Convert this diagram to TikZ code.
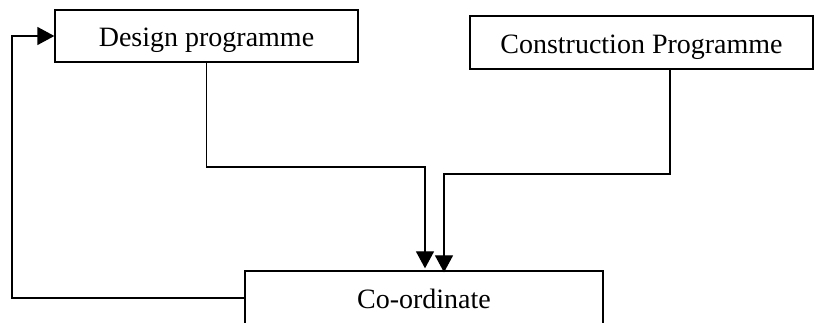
\documentclass[tikz,border=0pt]{standalone}
\usepackage{fontspec}
\setmainfont{Liberation Serif}
\usetikzlibrary{arrows.meta,calc}
\newcommand{\boxtext}[1]{\raisebox{-11pt}[0pt][0pt]{#1}}
\begin{document}
\begin{tikzpicture}[x=1pt,y=-1pt,
  box/.style={draw,line width=1.3pt,inner sep=0pt,font=\fontsize{28}{32}\selectfont},
  link/.style={line width=1.3pt},
  arr/.style={link,-{Triangle[length=17pt,width=18pt]}}]
  \useasboundingbox (0,0) rectangle (815,323);
  \clip (0,0) rectangle (815,323);
  \node[box,minimum width=303pt,minimum height=52pt] (design) at (206.5,36) {\boxtext{Design programme}};
  \node[box,minimum width=343pt,minimum height=53pt] (cons) at (641.5,42.5) {\boxtext{Construction Programme}};
  \node[box,minimum width=358pt,minimum height=54pt] (coord) at (424,298) {\boxtext{Co-ordinate}};
  \coordinate (tipA) at ([xshift=1pt,yshift=2pt]coord.north);
  \coordinate (tipB) at ([xshift=20pt,yshift=-2pt]coord.north);
  \coordinate (back) at (12,298);
  % programme flows into co-ordination
  \draw[arr] (design.south) -- (206.5,167) -| (tipA);
  \draw[arr] ([xshift=28.5pt]cons.south) -- (670,174) -| (tipB);
  % feedback to the design programme
  \draw[arr] (coord.west) -- (back) |- (design.west);
\end{tikzpicture}
\end{document}
